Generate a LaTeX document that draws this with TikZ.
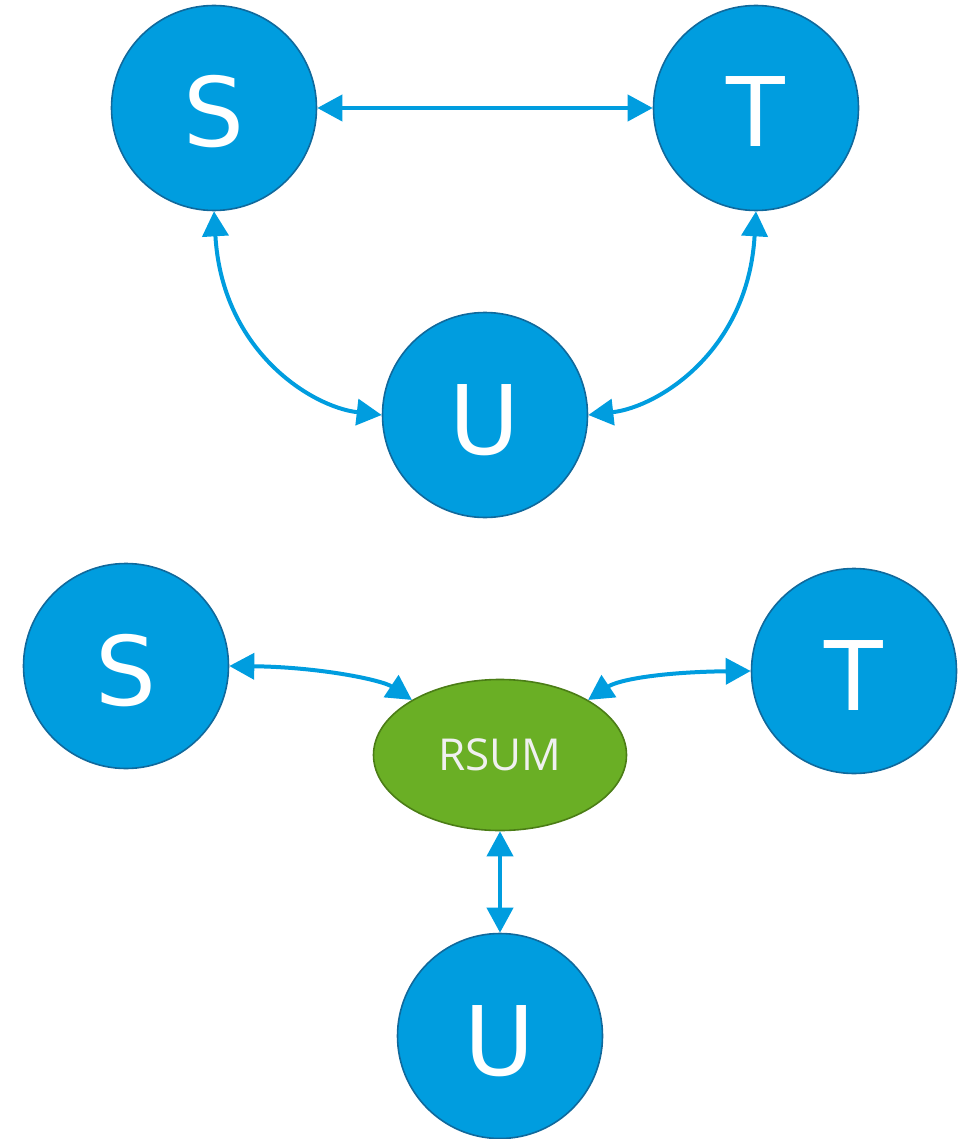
\documentclass[tikz,border=0pt]{standalone}
\usepackage{fontspec}
\setmainfont{Open Sans}
\newfontfamily\letterfont{DejaVu Sans}
\usetikzlibrary{arrows.meta,shapes.geometric}
\definecolor{nodeblue}{HTML}{009DDF}
\definecolor{nodeedge}{HTML}{10699C}
\definecolor{sumgreen}{HTML}{6AAF25}
\definecolor{sumedge}{HTML}{4B7D16}
\tikzset{
  letter/.style={circle, fill=nodeblue, draw=nodeedge, line width=1.6pt,
    minimum size=205pt, inner sep=0pt, text=white,
    text height=78pt, text depth=0pt,
    font=\letterfont\fontsize{96}{96}\selectfont},
  sumnode/.style={ellipse, fill=sumgreen, draw=sumedge, line width=1.6pt,
    minimum width=253pt, minimum height=151pt, inner sep=0pt,
    text=white!94!black, font=\fontsize{44}{44}\selectfont},
  link/.style={draw=nodeblue, line width=4pt,
    {Triangle[length=25pt,width=26pt]}-{Triangle[length=25pt,width=26pt]}},
}
\begin{document}
\begin{tikzpicture}[x=1pt,y=-1pt]
\useasboundingbox (0,0) rectangle (969,1139);

% triangle of pairwise links
\node[letter] (S1) at (214,108) {S};
\node[letter] (T1) at (756,108) {T};
\node[letter] (U1) at (485,415) {U};
\draw[link] (S1.east) -- (T1.west);
\draw[link] (S1.south) .. controls +(8,140) and +(-70,-8) .. (U1.west);
\draw[link] (T1.south) .. controls +(-8,140) and +(70,-8) .. (U1.east);

% star around the summation node
\node[letter] (S2) at (126,666) {S};
\node[letter] (T2) at (854,671) {T};
\node[letter] (U2) at (500,1036) {U};
\node[sumnode] (R) at (500,755) {RSUM};
\draw[link] (S2.east) .. controls +(90,1) and +(-30,-20) .. (R.148);
\draw[link] (T2.west) .. controls +(-90,1) and +(30,-20) .. (R.32);
\draw[link] (R.south) -- (U2.north);
\end{tikzpicture}
\end{document}
